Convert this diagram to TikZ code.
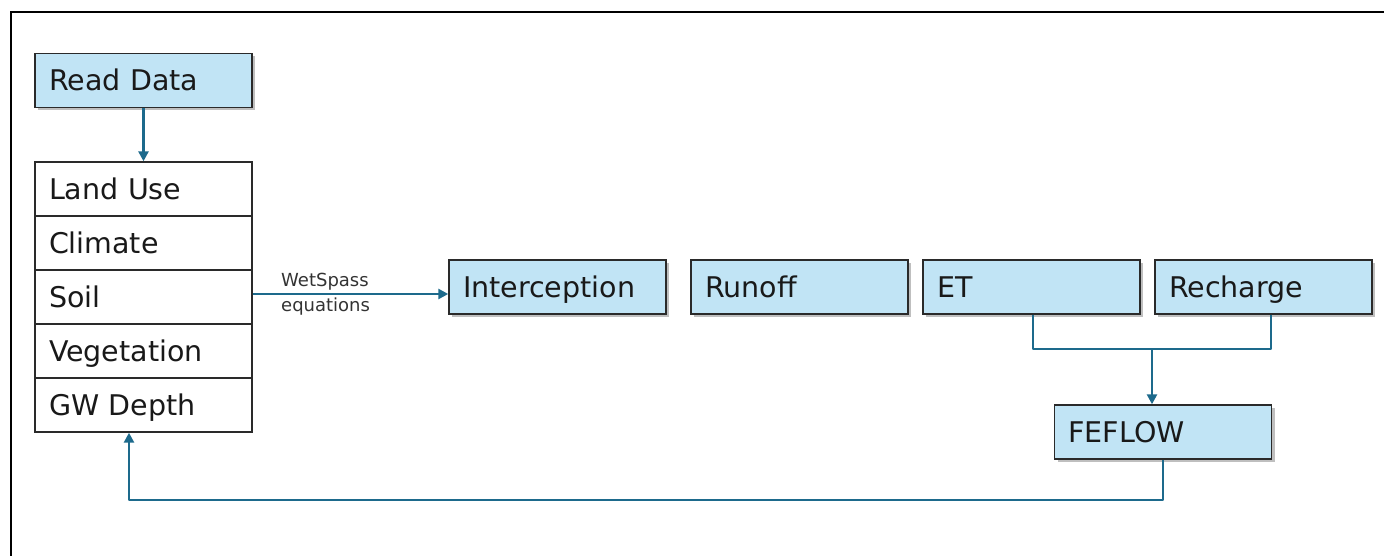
\documentclass[tikz,border=0pt]{standalone}
\usepackage{fontspec}
\setmainfont{DejaVu Sans}
\usetikzlibrary{arrows.meta,shadows}
\definecolor{boxblue}{HTML}{C1E4F5}
\definecolor{conncol}{HTML}{1D6A8C}
\definecolor{edgecol}{HTML}{2A2A2A}
\begin{document}
\begin{tikzpicture}[x=1pt,y=-1pt,
  base/.style={minimum width=217pt, minimum height=54pt, text width=189pt, align=left,
    inner xsep=14pt, inner ysep=0pt, text height=20.5pt, text depth=0pt,
    font=\fontsize{28.5}{30}\selectfont, text=black!90, draw=edgecol, line width=1.4pt},
  bluebox/.style={base, fill=boxblue, drop shadow={shadow xshift=3pt, shadow yshift=-3pt, opacity=0.25, fill=black}},
  whitebox/.style={base, fill=white},
  conn/.style={draw=conncol, line width=2.6pt, line join=round},
  arr/.style={conn, -{Triangle[length=10pt,width=10pt]}},
  lbl/.style={font=\fontsize{18}{25}\selectfont, text=black!80, align=left, inner sep=0pt}
]
\useasboundingbox (0,0) rectangle (1384,556);
\draw[line width=2.6pt] (11,556) -- (11,12) -- (1384,12);

\node[bluebox] (read) at (143.5,80.5) {Read Data};
\node[whitebox] (land) at (143.5,189) {Land Use};
\node[whitebox] (clim) at (143.5,243) {Climate};
\node[whitebox] (soil) at (143.5,297) {Soil};
\node[whitebox] (veg) at (143.5,351) {Vegetation};
\node[whitebox] (gw) at (143.5,405) {GW Depth};

\node[bluebox] (inter) at (557.5,287) {Interception};
\node[bluebox] (run) at (799.5,287) {Runoff};
\node[bluebox] (et) at (1031.5,287) {ET};
\node[bluebox] (rech) at (1263.5,287) {Recharge};
\node[bluebox] (fef) at (1163,432) {FEFLOW};

\draw[arr] (read.south) -- (land.north);
\draw[arr] (soil.east |- 0,294) -- (inter.west |- 0,294);
\node[lbl, anchor=west] (wl) at (281,294) {WetSpass\\equations};

\coordinate (m) at (1152,349);
\draw[conn] ([xshift=1.5pt]et.south) |- (m);
\draw[conn] ([xshift=7.5pt]rech.south) |- (m);
\draw[arr] (m) -- (m |- fef.north);

\coordinate (b) at (129,500);
\draw[arr] (fef.south) |- (b) -- (b |- gw.south);
\end{tikzpicture}
\end{document}
